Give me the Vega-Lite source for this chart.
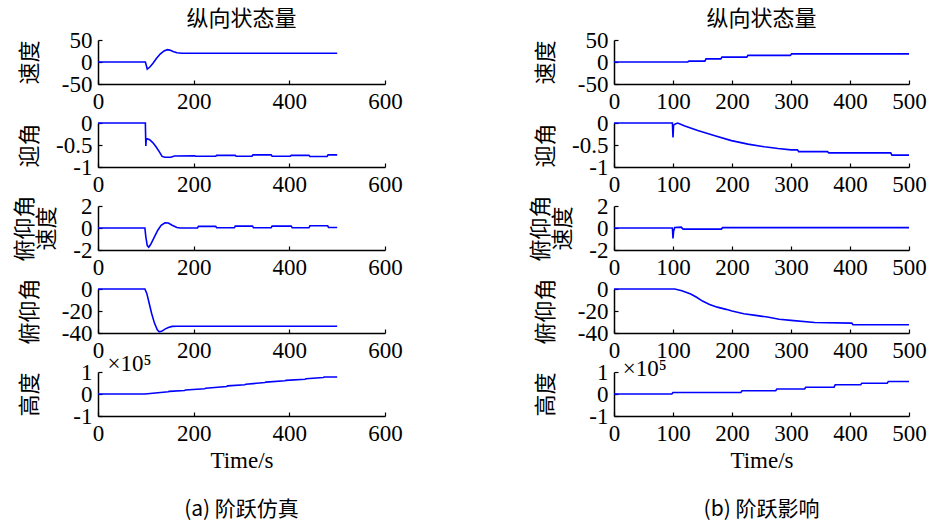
{
  "$schema": "https://vega.github.io/schema/vega-lite/v6.json",
  "padding": {"left": 13, "top": 8, "right": 0, "bottom": 4},
  "background": "white",
  "datasets": {
    "a1": [{"t":0,"v":0},{"t":99,"v":0},{"t":103,"v":-16},{"t":108,"v":-12},{"t":115,"v":-3},{"t":122,"v":8},{"t":130,"v":18},{"t":138,"v":25},{"t":145,"v":28},{"t":150,"v":27},{"t":157,"v":24},{"t":165,"v":21},{"t":175,"v":20},{"t":500,"v":20}],
    "a2": [{"t":0,"v":0},{"t":99,"v":0},{"t":100,"v":-0.52},{"t":101,"v":-0.35},{"t":108,"v":-0.38},{"t":115,"v":-0.45},{"t":122,"v":-0.55},{"t":128,"v":-0.65},{"t":134,"v":-0.76},{"t":140,"v":-0.78},{"t":152,"v":-0.78},{"t":160,"v":-0.75},{"t":202,"v":-0.745},{"t":204,"v":-0.757},{"t":246,"v":-0.757},{"t":248,"v":-0.735},{"t":287,"v":-0.735},{"t":289,"v":-0.757},{"t":322,"v":-0.757},{"t":324,"v":-0.725},{"t":362,"v":-0.725},{"t":364,"v":-0.757},{"t":402,"v":-0.757},{"t":404,"v":-0.735},{"t":441,"v":-0.735},{"t":443,"v":-0.76},{"t":479,"v":-0.76},{"t":481,"v":-0.725},{"t":500,"v":-0.725}],
    "a3": [{"t":0,"v":0},{"t":98,"v":0},{"t":100,"v":-0.8},{"t":103,"v":-1.6},{"t":106,"v":-1.75},{"t":110,"v":-1.5},{"t":118,"v":-0.8},{"t":125,"v":-0.2},{"t":132,"v":0.25},{"t":140,"v":0.48},{"t":147,"v":0.45},{"t":155,"v":0.25},{"t":165,"v":0.05},{"t":172,"v":0},{"t":208,"v":0},{"t":210,"v":0.15},{"t":246,"v":0.15},{"t":248,"v":0.02},{"t":285,"v":0.02},{"t":287,"v":0.17},{"t":323,"v":0.17},{"t":325,"v":0.02},{"t":362,"v":0.02},{"t":364,"v":0.17},{"t":404,"v":0.17},{"t":406,"v":0.02},{"t":441,"v":0.02},{"t":443,"v":0.2},{"t":480,"v":0.2},{"t":482,"v":0.05},{"t":500,"v":0.05}],
    "a4": [{"t":0,"v":0},{"t":98,"v":0},{"t":102,"v":-4},{"t":107,"v":-13},{"t":112,"v":-22},{"t":118,"v":-31},{"t":124,"v":-37},{"t":128,"v":-39},{"t":133,"v":-38.5},{"t":140,"v":-36.5},{"t":147,"v":-35},{"t":155,"v":-34},{"t":165,"v":-33.8},{"t":500,"v":-33.8}],
    "a5": [{"t":0,"v":0},{"t":98,"v":0},{"t":147,"v":0.1},{"t":149,"v":0.12},{"t":181,"v":0.16},{"t":183,"v":0.18},{"t":223,"v":0.24},{"t":225,"v":0.26},{"t":269,"v":0.34},{"t":271,"v":0.37},{"t":307,"v":0.42},{"t":309,"v":0.44},{"t":349,"v":0.52},{"t":351,"v":0.54},{"t":391,"v":0.6},{"t":393,"v":0.62},{"t":433,"v":0.67},{"t":435,"v":0.69},{"t":471,"v":0.75},{"t":473,"v":0.77},{"t":500,"v":0.77}],
    "a5n": [{"t":20,"v":1.04,"label":"×10⁵"}],
    "b1": [{"t":0,"v":0},{"t":125,"v":0},{"t":127,"v":2},{"t":154,"v":2},{"t":156,"v":7},{"t":181,"v":7},{"t":183,"v":11},{"t":225,"v":11},{"t":227,"v":15},{"t":299,"v":15},{"t":301,"v":18.5},{"t":500,"v":18.5}],
    "b2": [{"t":0,"v":0},{"t":99,"v":0},{"t":100,"v":-0.33},{"t":101,"v":-0.05},{"t":104,"v":-0.02},{"t":108,"v":0},{"t":120,"v":-0.07},{"t":142,"v":-0.17},{"t":171,"v":-0.29},{"t":199,"v":-0.4},{"t":227,"v":-0.48},{"t":255,"v":-0.54},{"t":278,"v":-0.58},{"t":300,"v":-0.61},{"t":311,"v":-0.61},{"t":313,"v":-0.65},{"t":362,"v":-0.65},{"t":364,"v":-0.68},{"t":469,"v":-0.68},{"t":471,"v":-0.73},{"t":500,"v":-0.73}],
    "b3": [{"t":0,"v":0},{"t":99,"v":0},{"t":100,"v":-0.95},{"t":101,"v":-0.3},{"t":103,"v":0.05},{"t":114,"v":0.08},{"t":117,"v":-0.1},{"t":182,"v":-0.1},{"t":184,"v":0.03},{"t":500,"v":0.03}],
    "b4": [{"t":0,"v":0},{"t":103,"v":0},{"t":115,"v":-1.5},{"t":130,"v":-4.5},{"t":140,"v":-7.5},{"t":150,"v":-11},{"t":162,"v":-14},{"t":175,"v":-16.5},{"t":190,"v":-18.5},{"t":200,"v":-20},{"t":220,"v":-22.5},{"t":240,"v":-24},{"t":260,"v":-25.5},{"t":280,"v":-27.5},{"t":300,"v":-28.5},{"t":340,"v":-30.5},{"t":403,"v":-31},{"t":405,"v":-32.5},{"t":500,"v":-32.5}],
    "b5": [{"t":0,"v":0},{"t":98,"v":0},{"t":100,"v":0.07},{"t":215,"v":0.07},{"t":217,"v":0.15},{"t":274,"v":0.15},{"t":276,"v":0.23},{"t":323,"v":0.23},{"t":325,"v":0.31},{"t":373,"v":0.31},{"t":375,"v":0.42},{"t":418,"v":0.42},{"t":420,"v":0.49},{"t":463,"v":0.49},{"t":465,"v":0.57},{"t":500,"v":0.57}],
    "b5n": [{"t":15,"v":0.8,"label":"×10⁵"}]
  },
  "columns": 2,
  "align": "each",
  "bounds": "flush",
  "spacing": {"row": 39, "column": 229},
  "concat": [
    {"width": 287, "height": 44, "title": {"text": "纵向状态量", "offset": -2},
     "data": {"name": "a1"}, "mark": {"type": "line"},
     "encoding": {
       "x": {"field": "t", "type": "quantitative", "scale": {"domain": [0, 600]}, "axis": {"values": [0, 200, 400, 600], "title": null}},
       "y": {"field": "v", "type": "quantitative", "scale": {"domain": [-50, 50]}, "axis": {"values": [-50, 0, 50], "title": "速度", "titlePadding": 17}}}},
    {"width": 295, "height": 44, "title": {"text": "纵向状态量", "offset": -2},
     "data": {"name": "b1"}, "mark": {"type": "line"},
     "encoding": {
       "x": {"field": "t", "type": "quantitative", "scale": {"domain": [0, 500]}, "axis": {"values": [0, 100, 200, 300, 400, 500], "title": null}},
       "y": {"field": "v", "type": "quantitative", "scale": {"domain": [-50, 50]}, "axis": {"values": [-50, 0, 50], "title": "速度", "titlePadding": 17}}}},
    {"width": 287, "height": 44,
     "data": {"name": "a2"}, "mark": {"type": "line"},
     "encoding": {
       "x": {"field": "t", "type": "quantitative", "scale": {"domain": [0, 600]}, "axis": {"values": [0, 200, 400, 600], "title": null}},
       "y": {"field": "v", "type": "quantitative", "scale": {"domain": [-1, 0]}, "axis": {"values": [-1, -0.5, 0], "title": "迎角", "titlePadding": 17}}}},
    {"width": 295, "height": 44,
     "data": {"name": "b2"}, "mark": {"type": "line"},
     "encoding": {
       "x": {"field": "t", "type": "quantitative", "scale": {"domain": [0, 500]}, "axis": {"values": [0, 100, 200, 300, 400, 500], "title": null}},
       "y": {"field": "v", "type": "quantitative", "scale": {"domain": [-1, 0]}, "axis": {"values": [-1, -0.5, 0], "title": "迎角", "titlePadding": 17}}}},
    {"width": 287, "height": 44,
     "data": {"name": "a3"}, "mark": {"type": "line"},
     "encoding": {
       "x": {"field": "t", "type": "quantitative", "scale": {"domain": [0, 600]}, "axis": {"values": [0, 200, 400, 600], "title": null}},
       "y": {"field": "v", "type": "quantitative", "scale": {"domain": [-2, 2]}, "axis": {"values": [-2, 0, 2], "title": ["俯仰角", "速度"], "titlePadding": 0, "titleLineHeight": 22}}}},
    {"width": 295, "height": 44,
     "data": {"name": "b3"}, "mark": {"type": "line"},
     "encoding": {
       "x": {"field": "t", "type": "quantitative", "scale": {"domain": [0, 500]}, "axis": {"values": [0, 100, 200, 300, 400, 500], "title": null}},
       "y": {"field": "v", "type": "quantitative", "scale": {"domain": [-2, 2]}, "axis": {"values": [-2, 0, 2], "title": ["俯仰角", "速度"], "titlePadding": 0, "titleLineHeight": 22}}}},
    {"width": 287, "height": 44,
     "data": {"name": "a4"}, "mark": {"type": "line"},
     "encoding": {
       "x": {"field": "t", "type": "quantitative", "scale": {"domain": [0, 600]}, "axis": {"values": [0, 200, 400, 600], "title": null}},
       "y": {"field": "v", "type": "quantitative", "scale": {"domain": [-40, 0]}, "axis": {"values": [-40, -20, 0], "title": "俯仰角", "titlePadding": 17}}}},
    {"width": 295, "height": 44,
     "data": {"name": "b4"}, "mark": {"type": "line"},
     "encoding": {
       "x": {"field": "t", "type": "quantitative", "scale": {"domain": [0, 500]}, "axis": {"values": [0, 100, 200, 300, 400, 500], "title": null}},
       "y": {"field": "v", "type": "quantitative", "scale": {"domain": [-40, 0]}, "axis": {"values": [-40, -20, 0], "title": "俯仰角", "titlePadding": 17}}}},
    {"width": 287, "height": 44,
     "title": {"text": "(a)  阶跃仿真", "orient": "bottom", "offset": 27, "font": "Noto Sans CJK SC", "fontSize": 21},
     "layer": [
       {"data": {"name": "a5"}, "mark": {"type": "line"},
        "encoding": {
          "x": {"field": "t", "type": "quantitative", "scale": {"domain": [0, 600]}, "axis": {"values": [0, 200, 400, 600], "title": "Time/s"}},
          "y": {"field": "v", "type": "quantitative", "scale": {"domain": [-1, 1]}, "axis": {"values": [-1, 0, 1], "title": "高度", "titlePadding": 17}}}},
       {"data": {"name": "a5n"}, "mark": {"type": "text", "align": "left", "baseline": "alphabetic", "font": "Liberation Serif", "fontSize": 23, "color": "black"},
        "encoding": {
          "x": {"field": "t", "type": "quantitative", "axis": {"values": [0, 200, 400, 600], "title": "Time/s"}},
          "y": {"field": "v", "type": "quantitative", "axis": {"values": [-1, 0, 1], "title": "高度", "titlePadding": 17}},
          "text": {"field": "label"}}}
     ]},
    {"width": 295, "height": 44,
     "title": {"text": "(b)  阶跃影响", "orient": "bottom", "offset": 27, "font": "Noto Sans CJK SC", "fontSize": 21},
     "layer": [
       {"data": {"name": "b5"}, "mark": {"type": "line"},
        "encoding": {
          "x": {"field": "t", "type": "quantitative", "scale": {"domain": [0, 500]}, "axis": {"values": [0, 100, 200, 300, 400, 500], "title": "Time/s"}},
          "y": {"field": "v", "type": "quantitative", "scale": {"domain": [-1, 1]}, "axis": {"values": [-1, 0, 1], "title": "高度", "titlePadding": 17}}}},
       {"data": {"name": "b5n"}, "mark": {"type": "text", "align": "left", "baseline": "alphabetic", "font": "Liberation Serif", "fontSize": 23, "color": "black"},
        "encoding": {
          "x": {"field": "t", "type": "quantitative", "axis": {"values": [0, 100, 200, 300, 400, 500], "title": "Time/s"}},
          "y": {"field": "v", "type": "quantitative", "axis": {"values": [-1, 0, 1], "title": "高度", "titlePadding": 17}},
          "text": {"field": "label"}}}
     ]}
  ],
  "config": {
    "view": {"stroke": null},
    "line": {"color": "#0000ff", "strokeWidth": 1.6},
    "axis": {"grid": false, "domainColor": "#000", "domainWidth": 1.5, "tickColor": "#000", "tickSize": -4, "tickWidth": 1.2,
             "labelFont": "Liberation Serif", "labelFontSize": 23, "labelColor": "#000", "labelFlush": false, "labelOverlap": false, "labelPadding": 10,
             "labelExpr": "replace(format(datum.value, '~g'), '−', '-')",
             "titleFont": "Liberation Serif", "titleFontSize": 23, "titleFontWeight": "normal", "titleColor": "#000"},
    "axisY": {"titleFont": "Noto Sans CJK SC", "titleFontSize": 22, "minExtent": 40, "maxExtent": 40},
    "title": {"font": "Noto Sans CJK SC", "fontSize": 22, "fontWeight": "normal", "color": "#000"}
  }
}
